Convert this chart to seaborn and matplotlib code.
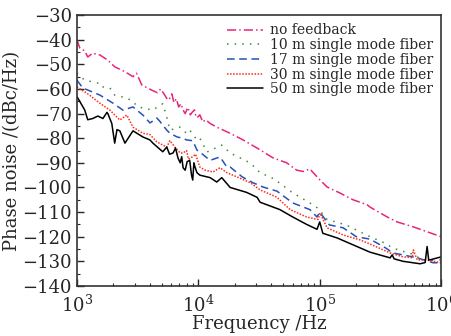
import seaborn as sns
import matplotlib.pyplot as plt
import matplotlib.ticker as mticker
import pandas as pd

# data (frequency in Hz, phase noise in dBc/Hz)
f_nofb = [1000, 1060, 1160, 1230, 1350, 1550, 1800, 2050, 2490, 2900, 3100, 3430,
          4150, 4600, 4900, 5300, 5600, 5840, 6060, 6300, 6600, 6900, 7200, 7500,
          7800, 8200, 8600, 8900, 9300, 9600, 9900, 10300, 10900, 11500, 12500,
          14200, 18300, 23400, 30500, 41300, 53500, 64800, 73000, 83000, 100600,
          115000, 146000, 188000, 245000, 260000, 360000, 434000, 589000, 766000,
          1000000]
pn_nofb = [-40, -43.4, -44.5, -47, -45.5, -46.2, -48.3, -51, -53, -55, -53.6, -58.4,
           -60.5, -61.5, -60, -62.5, -64.5, -63.7, -62, -65.5, -64, -67.3, -66, -68.6,
           -70, -67.5, -70.5, -69.5, -68.5, -71.5, -71.4, -70.5, -73.4, -72.5, -74,
           -75.5, -78, -80.7, -84, -88, -90, -93, -93.5, -92.5, -97,
           -99.8, -102.2, -105, -107, -108, -112, -114, -116, -118,
           -120]

f_10m = [1000, 1160, 1490, 1550, 1870, 2050, 2400, 2800, 3200, 4200, 5100, 5500,
         5840, 7100, 8000, 8500, 9750, 10300, 11800, 15600, 18300, 26700, 32300,
         42000, 60000, 83000, 97000, 115000, 145000, 180000, 200000, 260000,
         340000, 400000, 486000, 578000, 700000, 811000, 1000000]
pn_10m = [-53.6, -56.4, -57.6, -59, -59.5, -62.5, -63.3, -64.5, -67.3, -68.6, -66, -71.4,
          -76.7, -75.5, -78, -76.7, -80.7, -80, -85.6, -82.8, -86, -90, -94,
          -96.5, -102.2, -106.3, -108.5, -113, -114.4, -116, -117.3, -120,
          -122.5, -124.6, -126, -127, -129.4, -129.6, -129.4]

f_17m = [1000, 1120, 1550, 1990, 2400, 2900, 3500, 4000, 4560, 4800, 5500, 5840,
         6700, 7500, 8000, 9000, 9750, 10300, 12500, 15100, 17200, 18300, 23000,
         28000, 34000, 44500, 60000, 83000, 95000, 100000, 120000, 156000, 200000,
         260000, 350000, 400000, 486000, 635000, 860000, 1000000]
pn_17m = [-56.4, -59.6, -62.5, -65.8, -68.6, -67.3, -70.6, -73.8, -71.8, -73, -76.7, -78,
          -79.5, -80, -80.7, -81, -84.8, -85.6, -89, -87.6, -91.7, -91.7, -95.7,
          -98, -99.8, -101.5, -106.3, -109, -112, -110, -115.2, -116.4, -120,
          -121, -124.6, -126.6, -127.4, -128.6, -130.6, -130.6]

f_30m = [1000, 1210, 1550, 1870, 2260, 2580, 2900, 3500, 4000, 4560, 5500, 5840,
         6500, 7100, 7500, 8000, 8300, 9000, 9500, 10300, 11400, 13250, 15100,
         17200, 20800, 26700, 32300, 44500, 57000, 78000, 97000, 100600, 115000,
         156000, 215000, 260000, 380000, 486000, 578000, 590000, 635000, 766000,
         1000000]
pn_30m = [-59.2, -61.7, -65.8, -68.6, -72.6, -70.6, -75.5, -78, -78.5, -81.5, -83.6, -81,
          -84, -86, -86, -85, -88.5, -87.5, -86.5, -91.7, -93, -93.7, -92,
          -94, -95.7, -98, -101, -104, -109, -112, -113, -110.4, -116.4,
          -119.3, -121.3, -123, -126.6, -128.2, -128.5, -125.4, -129.4, -129.5,
          -130.6]

f_50m = [1000, 1160, 1230, 1350, 1490, 1640, 1770, 1800, 1940, 2050, 2140, 2260,
         2490, 2900, 3500, 4000, 4230, 5100, 5500, 5800, 6200, 6500, 6800, 7100,
         7300, 7500, 7800, 8100, 8500, 8800, 9000, 9200, 9400, 9750, 10300, 12500,
         14200, 15600, 18300, 25000, 30500, 32300, 47000, 60000, 78000, 95000,
         100000, 106000, 139000, 188000, 260000, 380000, 395000, 410000, 486000,
         671000, 738000, 766000, 790000, 811000, 1000000]
pn_50m = [-63, -68.5, -72.5, -72, -71, -72, -69.5, -70, -74, -82, -76.5, -77,
          -82, -77, -79.5, -80.7, -82, -85.5, -83.6, -86.5, -86, -84, -88, -90,
          -87.5, -92, -93, -89.5, -89, -95, -97, -90, -91.7, -94, -95, -96,
          -97.8, -96, -100, -102, -104, -106, -109, -112, -115, -117,
          -114, -118.6, -120.5, -123.3, -126.3, -128.6, -127.4, -129, -130,
          -131, -130.5, -124, -129.5, -129.4, -128.2]

labels = ["no feedback", "10 m single mode fiber", "17 m single mode fiber",
          "30 m single mode fiber", "50 m single mode fiber"]

series = [(f_nofb, pn_nofb, "#e8247c", (0, (6, 2, 1, 2))),
          (f_10m, pn_10m, "#3d8a3d", (0, (1, 4))),
          (f_17m, pn_17m, "#2452b8", (0, (5, 3))),
          (f_30m, pn_30m, "#ff2a1a", (0, (1, 1))),
          (f_50m, pn_50m, "#000000", "-")]

sns.set_style("ticks")
plt.rcParams['font.family'] = ['DejaVu Serif']
plt.rcParams['mathtext.fontset'] = 'dejavuserif'

fig = plt.figure(figsize=(4.52, 3.36), dpi=100)
ax = fig.add_axes([0.170, 0.149, 0.806, 0.806])

for (f, pn, c, ls), lab in zip(series, labels):
    df = pd.DataFrame({"f": f, "pn": pn})
    sns.lineplot(data=df, x="f", y="pn", ax=ax, color=c, linestyle=ls,
                 linewidth=1.1, label=lab, sort=False)

ax.set_xscale("log")
ax.set_xlim(1e3, 1e6)
ax.set_ylim(-140, -30)
ax.yaxis.set_major_locator(mticker.MultipleLocator(10))
ax.yaxis.set_minor_locator(mticker.MultipleLocator(5))
ax.xaxis.set_major_locator(mticker.LogLocator(base=10))
ax.xaxis.set_minor_locator(mticker.LogLocator(base=10, subs=range(2, 10)))
ax.xaxis.set_minor_formatter(mticker.NullFormatter())
ax.yaxis.set_major_formatter(mticker.FuncFormatter(lambda v, p: f"\u2212{abs(int(v))}" if v < 0 else f"{int(v)}"))
ax.tick_params(which="major", direction="in", length=5, width=1, labelsize=13)
ax.tick_params(axis="x", which="major", pad=6)
ax.tick_params(which="minor", direction="in", length=2.5, width=0.8)
for s in ax.spines.values():
    s.set_linewidth(1.2)
    s.set_color("#333333")

ax.set_xlabel("Frequency /Hz", fontsize=13, labelpad=0)
ax.set_ylabel("Phase noise /(dBc/Hz)", fontsize=13, labelpad=1)

leg = ax.legend(loc="upper right", frameon=False, fontsize=10, handlelength=2.6,
                handletextpad=0.5, labelspacing=0.05, borderaxespad=0.2)

fig.savefig("out.png", dpi=100)
